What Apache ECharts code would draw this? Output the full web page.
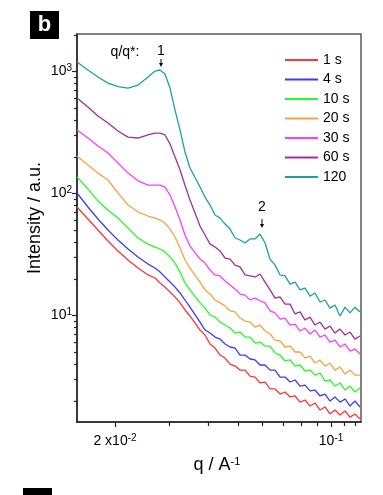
<!DOCTYPE html>
<html><head><meta charset="utf-8">
<script src="https://cdn.jsdelivr.net/npm/echarts@6/dist/echarts.min.js"></script>
<style>html,body{margin:0;padding:0;background:#fff}#c{width:383px;height:495px}</style>
</head><body><div id="c"></div>
<script>
// scattering vector q (1/A)
const q = [0.01507, 0.01635, 0.01762, 0.01898, 0.02045, 0.02204, 0.02374, 0.02558, 0.02695, 0.02797, 0.02902, 0.03013, 0.03128, 0.03247, 0.03369, 0.03497,
  0.03768, 0.03911, 0.04060, 0.04214, 0.04374, 0.04540, 0.04713, 0.04891, 0.05076, 0.05269, 0.05470, 0.05677, 0.05893, 0.06116, 0.06348, 0.06589, 0.06840,
  0.07099, 0.07370, 0.07649, 0.07938, 0.08240, 0.08552, 0.08875, 0.09212, 0.09561, 0.09923, 0.1030, 0.1069, 0.1110, 0.1152, 0.1195, 0.1241];
// intensities (a.u.)
const I_1s = [77.5, 61.8, 50.2, 40.8, 33.8, 28.5, 24.5, 21.5, 20.3, 18.5, 17.1, 15.6, 14.2, 12.7, 11.1, 9.91,
  7.60, 6.92, 5.84, 5.41, 4.74, 4.48, 4.00, 3.85, 3.57, 3.57, 3.19, 3.13, 2.80, 2.85, 2.50, 2.50, 2.27, 2.36, 2.15, 2.19, 1.95, 2.03, 1.81, 1.92, 1.68, 1.78, 1.56, 1.68, 1.53, 1.65, 1.47, 1.56, 1.42];
const I_4s = [101, 77.5, 61.8, 50.2, 41.6, 35.1, 30.2, 26.4, 24.5, 22.7, 20.7, 18.8, 17.1, 15.3, 13.4, 11.7,
  8.84, 7.60, 7.18, 6.66, 6.41, 5.84, 5.52, 5.41, 4.74, 4.74, 4.40, 4.32, 3.93, 3.93, 3.57, 3.57, 3.13, 3.13, 2.85, 2.96, 2.64, 2.69, 2.41, 2.45, 2.19, 2.27, 1.99, 2.15, 1.95, 2.07, 1.81, 1.99, 1.78];
const I_10s = [137, 109, 86.7, 73.2, 62.9, 52.1, 43.2, 38.5, 36.4, 35.1, 33.2, 30.2, 26.9, 22.7, 18.5, 16.2,
  12.7, 11.5, 10.1, 9.71, 8.84, 8.35, 7.89, 7.18, 7.32, 6.66, 6.66, 5.95, 6.06, 5.62, 5.62, 4.93, 4.74, 4.24, 4.32, 3.85, 3.93, 3.51, 3.57, 3.25, 3.38, 2.90, 2.96, 2.64, 2.80, 2.45, 2.64, 2.36, 2.55];
const I_20s = [203, 171, 147, 129, 101, 80.4, 70.5, 65.4, 62.9, 60.6, 57.3, 51.1, 44.0, 35.7, 28.5, 24.5,
  18.8, 16.2, 15.0, 13.4, 12.7, 12.0, 10.9, 10.7, 9.53, 9.01, 8.84, 8.04, 8.35, 7.46, 7.05, 6.29, 6.18, 5.52, 5.62, 5.02, 5.02, 4.48, 4.65, 4.08, 4.32, 3.85, 4.08, 3.57, 3.78, 3.31, 3.57, 3.25, 3.25];
const I_30s = [331, 285, 245, 215, 178, 147, 127, 117, 117, 117, 113, 97.1, 77.5, 60.6, 45.7, 37.1,
  29.0, 26.9, 23.6, 21.5, 21.1, 19.2, 17.8, 16.5, 15.0, 14.7, 13.4, 13.9, 13.2, 12.7, 10.9, 10.5, 9.35, 9.53, 8.35, 8.51, 7.46, 7.89, 7.05, 7.60, 6.66, 6.92, 6.06, 6.29, 5.52, 5.84, 5.11, 5.31, 4.83];
const I_60s = [606, 511, 432, 378, 325, 290, 285, 302, 313, 313, 302, 255, 199, 156, 117, 88.4,
  54.1, 45.7, 38.5, 36.4, 33.8, 29.6, 29.0, 25.9, 25.0, 21.5, 21.1, 20.7, 21.9, 18.8, 16.2, 13.9, 14.2, 12.4, 12.4, 10.3, 10.7, 9.18, 9.71, 8.35, 8.84, 7.74, 8.20, 7.18, 7.74, 6.92, 7.32, 6.41, 6.79];
const I_120s = [1198, 1029, 901, 804, 753, 732, 775, 901, 1009, 1029, 953, 732, 483, 331, 219, 162,
  113, 93.5, 80.4, 66.6, 62.9, 56.2, 51.1, 43.2, 41.6, 39.3, 42.4, 42.4, 46.5, 39.3, 29.0, 25.9, 21.5, 21.1, 18.1, 18.8, 16.2, 16.8, 14.4, 15.3, 12.9, 13.4, 11.5, 12.2, 9.90, 11.7, 10.5, 11.7, 10.7];

const seriesNames = ['1 s', '4 s', '10 s', '20 s', '30 s', '60 s', '120'];
const seriesValues = [I_1s, I_4s, I_10s, I_20s, I_30s, I_60s, I_120s];
const seriesColors = ['#ff3434', '#3c3cff', '#22ff22', '#ffa040', '#ff3cff', '#a0309c', '#1aa2a2'];

// axis ranges and ticks
const xRange = [0.01507, 0.125];
const yRange = [1.34, 2030];
const xMajor = [0.02, 0.1];
const xMajorLabels = ['2 x10{s|-2}', '10{s|-1}'];
const xMinor = [0.03, 0.04, 0.05, 0.06, 0.07, 0.08, 0.09, 0.11, 0.12];
const yMajor = [10, 100, 1000];
const yMajorLabels = ['10{s|1}', '10{s|2}', '10{s|3}'];
const yMinor = [2, 3, 4, 5, 6, 7, 8, 9, 20, 30, 40, 50, 60, 70, 80, 90, 200, 300, 400, 500, 600, 700, 800, 900, 2000];

const L = Math.log10;
const FONT = 'Liberation Sans, Arial, sans-serif';
const rich = {
  s: { fontSize: 10, lineHeight: 10, verticalAlign: 'top', fontFamily: FONT, color: '#000', padding: [0, 0, 0, 0] }
};
function fmt(majors, labels) {
  return function (v) {
    for (let i = 0; i < majors.length; i++) if (Math.abs(L(majors[i]) - v) < 1e-6) return labels[i];
    return '';
  };
}

const chart = echarts.init(document.getElementById('c'), null, { renderer: 'canvas' });
const axisLineStyle = { color: '#222', width: 1.5 };

const option = {
  animation: false,
  backgroundColor: '#fff',
  grid: { left: 77, right: 22, top: 34, bottom: 73, show: true, borderColor: '#5a5a5a', borderWidth: 1.5, backgroundColor: 'transparent' },
  xAxis: [
    {
      type: 'value', min: L(xRange[0]), max: L(xRange[1]), position: 'bottom',
      axisLine: { show: true, onZero: false, lineStyle: axisLineStyle },
      axisTick: { show: true, length: 5, customValues: xMajor.map(L), lineStyle: { color: '#222', width: 1.2 } },
      axisLabel: { show: true, customValues: xMajor.map(L), formatter: fmt(xMajor, xMajorLabels), margin: 11,
        fontSize: 14, fontFamily: FONT, color: '#000', lineHeight: 17, rich: rich },
      splitLine: { show: false }
    },
    {
      type: 'value', min: L(xRange[0]), max: L(xRange[1]), position: 'bottom',
      axisLine: { show: false, onZero: false },
      axisTick: { show: true, length: 4, customValues: xMinor.map(L), lineStyle: { color: '#222', width: 1.2 } },
      axisLabel: { show: false }, splitLine: { show: false }
    }
  ],
  yAxis: [
    {
      type: 'value', min: L(yRange[0]), max: L(yRange[1]), position: 'left',
      axisLine: { show: true, onZero: false, lineStyle: axisLineStyle },
      axisTick: { show: true, length: 5, customValues: yMajor.map(L), lineStyle: { color: '#222', width: 1.2 } },
      axisLabel: { show: true, customValues: yMajor.map(L), formatter: fmt(yMajor, yMajorLabels), margin: 5,
        fontSize: 14, fontFamily: FONT, color: '#000', lineHeight: 17, rich: rich },
      splitLine: { show: false }
    },
    {
      type: 'value', min: L(yRange[0]), max: L(yRange[1]), position: 'left',
      axisLine: { show: false, onZero: false },
      axisTick: { show: true, length: 3, customValues: yMinor.map(L), lineStyle: { color: '#222', width: 1.2 } },
      axisLabel: { show: false }, splitLine: { show: false }
    }
  ],
  legend: {
    orient: 'vertical', left: 284, top: 53, padding: 0, itemWidth: 33, itemHeight: 14, itemGap: 5.5,
    data: seriesNames,
    itemStyle: { opacity: 0 },
    textStyle: { fontSize: 14, fontFamily: FONT, color: '#000' }
  },
  series: seriesNames.map((name, k) => ({
    name: name, type: 'line', xAxisIndex: 0, yAxisIndex: 0,
    symbol: 'none', showSymbol: false, smooth: false,
    lineStyle: { width: 1.3, color: seriesColors[k] },
    itemStyle: { color: seriesColors[k] },
    data: q.map((qq, i) => [L(qq), L(seriesValues[k][i])])
  })),
  graphic: [
    { type: 'rect', shape: { x: 30, y: 11, width: 29, height: 28 }, style: { fill: '#000' } },
    { type: 'text', x: 44.5, y: 25, style: { text: 'b', fill: '#fff', font: 'bold 22px ' + FONT, align: 'center', verticalAlign: 'middle' } },
    { type: 'rect', shape: { x: 23, y: 488, width: 29, height: 10 }, style: { fill: '#000' } },
    { type: 'text', x: 35, y: 218, rotation: Math.PI / 2, style: { text: 'Intensity / a.u.', fill: '#000', font: '18px ' + FONT, align: 'center', verticalAlign: 'middle' } },
    { type: 'text', x: 217, y: 465, style: { text: 'q / A{s|-1}', fill: '#000', font: '18px ' + FONT, align: 'center', verticalAlign: 'middle',
        rich: { s: { fontSize: 11, lineHeight: 11, verticalAlign: 'top', fontFamily: FONT, fill: '#000' } } } },
    { type: 'text', x: 125, y: 52, style: { text: 'q/q*:', fill: '#000', font: '14px ' + FONT, align: 'center', verticalAlign: 'middle' } },
    { type: 'text', x: 161, y: 51, style: { text: '1', fill: '#000', font: '14px ' + FONT, align: 'center', verticalAlign: 'middle' } },
    { type: 'line', shape: { x1: 161, y1: 59, x2: 161, y2: 64 }, style: { stroke: '#000', lineWidth: 1 } },
    { type: 'polygon', shape: { points: [[159, 63], [163, 63], [161, 67]] }, style: { fill: '#000' } },
    { type: 'text', x: 262, y: 207, style: { text: '2', fill: '#000', font: '14px ' + FONT, align: 'center', verticalAlign: 'middle' } },
    { type: 'line', shape: { x1: 262, y1: 219, x2: 262, y2: 225 }, style: { stroke: '#000', lineWidth: 1 } },
    { type: 'polygon', shape: { points: [[260, 224], [264, 224], [262, 228]] }, style: { fill: '#000' } }
  ]
};
chart.setOption(option);
</script>
</body></html>
